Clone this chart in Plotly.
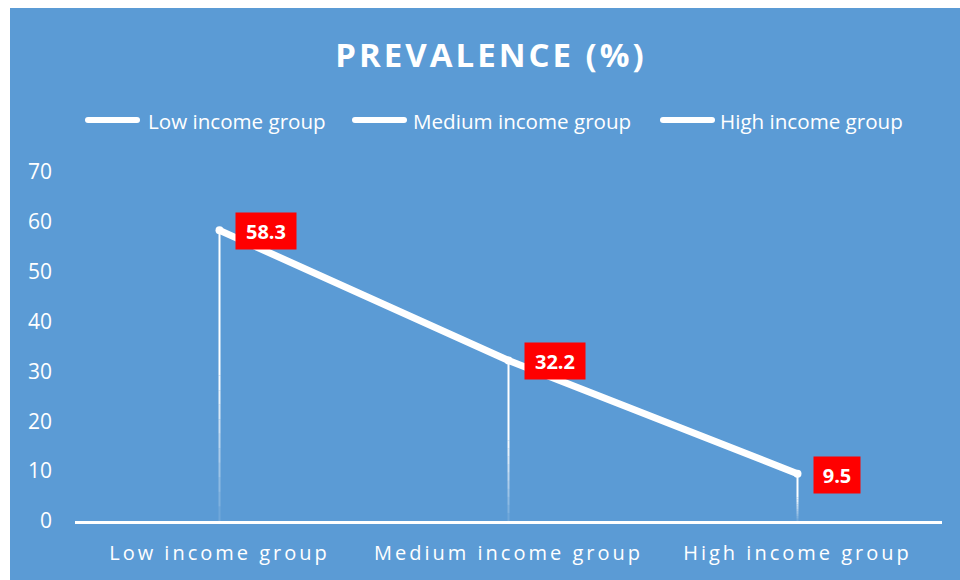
import plotly.graph_objects as go

# ---- data ----
categories = ["Low income group", "Medium income group", "High income group"]
prevalence = [58.3, 32.2, 9.5]
label_text = ["58.3", "32.2", "9.5"]
legend_names = ["Low income group", "Medium income group", "High income group"]
y_ticks = [0, 10, 20, 30, 40, 50, 60, 70]

W, H = 960, 580
L, R, T, B = 75, 18, 172, 59
PW, PH = W - L - R, H - T - B
BLUE = "#5B9BD5"
FONT = "Open Sans"


def px_x(px):
    return (px - L) / PW


def px_y(py):
    return (H - B - py) / PH


fig = go.Figure()

# drop lines: solid in the upper half, fading towards the axis below
n_seg = 10
for cat, val in zip(categories, prevalence):
    fig.add_trace(go.Scatter(
        x=[cat, cat], y=[val * 0.5, val], mode="lines",
        line=dict(color="white", width=2), hoverinfo="skip", showlegend=False))
    for k in range(n_seg):
        y0 = val * 0.5 * k / n_seg
        y1 = val * 0.5 * (k + 1) / n_seg
        op = 0.08 + 0.92 * (k + 0.5) / n_seg
        fig.add_trace(go.Scatter(
            x=[cat, cat], y=[y0, y1], mode="lines",
            line=dict(color=f"rgba(255,255,255,{op:.3f})", width=2),
            hoverinfo="skip", showlegend=False))

# main line
fig.add_trace(go.Scatter(
    x=categories, y=prevalence, mode="lines+markers", name=legend_names[0],
    line=dict(color="white", width=7),
    marker=dict(color="white", size=8),
    showlegend=False))

# data labels
for cat, val, txt in zip(categories, prevalence, label_text):
    fig.add_annotation(
        x=cat, y=val, xref="x", yref="y", text=f"<b>{txt}</b>",
        showarrow=False, xanchor="left", yanchor="middle", xshift=15, yshift=-1,
        bgcolor="#FF0000", borderpad=0, width=14 * len(txt) + 4, height=36,
        font=dict(family=FONT, size=20, color="white"))

shapes = [
    # white margins on the left and top of the blue chart area
    dict(type="rect", xref="paper", yref="paper",
         x0=px_x(-5), x1=px_x(10), y0=px_y(H + 5), y1=px_y(-5),
         fillcolor="white", line=dict(width=0), layer="below"),
    dict(type="rect", xref="paper", yref="paper",
         x0=px_x(-5), x1=px_x(W + 5), y0=px_y(8), y1=px_y(-5),
         fillcolor="white", line=dict(width=0), layer="below"),
]

# custom legend
legend_sym_x = [85, 352, 660]
legend_txt_x = [146, 411, 718]
legend_y = 120
for name, sx, tx in zip(legend_names, legend_sym_x, legend_txt_x):
    shapes.append(dict(type="line", xref="paper", yref="paper",
                       x0=px_x(sx + 3), x1=px_x(sx + 52), y0=px_y(legend_y), y1=px_y(legend_y),
                       line=dict(color="white", width=6)))
    shapes.append(dict(type="circle", xref="paper", yref="paper",
                       x0=px_x(sx), x1=px_x(sx + 6), y0=px_y(legend_y + 3), y1=px_y(legend_y - 3),
                       fillcolor="white", line=dict(width=0)))
    shapes.append(dict(type="circle", xref="paper", yref="paper",
                       x0=px_x(sx + 49), x1=px_x(sx + 55), y0=px_y(legend_y + 3), y1=px_y(legend_y - 3),
                       fillcolor="white", line=dict(width=0)))
    fig.add_annotation(x=px_x(tx), y=px_y(legend_y + 1), xref="paper", yref="paper",
                       text=name, showarrow=False, xanchor="left", yanchor="middle",
                       font=dict(family=FONT, size=20.6, color="white"))

fig.update_layout(
    width=W, height=H,
    margin=dict(l=L, r=R, t=T, b=B),
    paper_bgcolor=BLUE, plot_bgcolor="rgba(0,0,0,0)",
    shapes=shapes,
    showlegend=False,
    title=dict(text="<b>PREVALENCE (%)</b>", x=491 / W, xanchor="center", xref="container",
               y=1 - 55 / H, yanchor="middle", yref="container",
               font=dict(family=FONT, size=33, color="white")),
    xaxis=dict(range=[-0.5, 2.5], showline=True, linecolor="white", linewidth=3, showgrid=False,
               zeroline=False, ticks="", tickfont=dict(family=FONT, size=20, color="white"),
               ticklabelstandoff=12),
    yaxis=dict(range=[0, 70], tickvals=y_ticks, showgrid=False, zeroline=False,
               showline=False, ticks="", ticklabelstandoff=22,
               tickfont=dict(family=FONT, size=21, color="white")),
)

post = """
var gd = document.getElementById('{plot_id}');
function ls(){
  gd.querySelectorAll('.xtick text').forEach(function(t){ t.style.letterSpacing='3px'; });
  gd.querySelectorAll('.gtitle').forEach(function(t){ t.style.letterSpacing='3px'; });
}
ls();
gd.on('plotly_afterplot', ls);
"""

fig.write_html("out.html", post_script=post)
